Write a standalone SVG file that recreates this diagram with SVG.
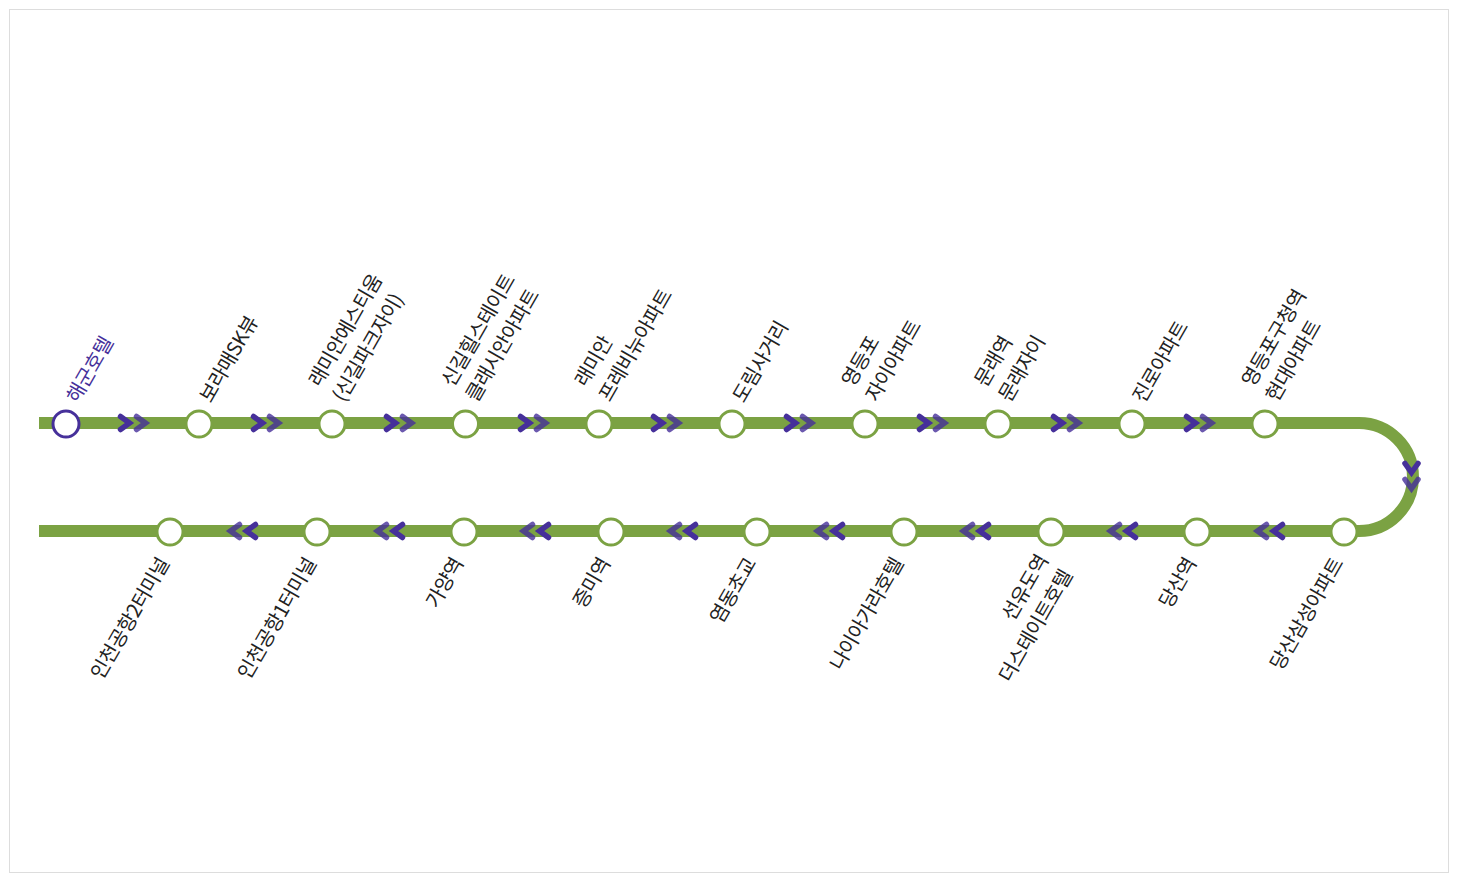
<svg xmlns="http://www.w3.org/2000/svg" width="1457" height="882" viewBox="0 0 1457 882">
<style>
text{font-family:"Noto Sans CJK KR","Noto Sans",sans-serif;font-size:20px;fill:#222;letter-spacing:-.5px}
.st{fill:#fff;stroke:#7ba243;stroke-width:3px}
.ch{fill:none;stroke:#46309a;stroke-width:5.500px;stroke-linecap:round;stroke-linejoin:miter}
.f{opacity:.8}
</style>
<defs>
<g id="rr"><path class="ch" d="M-11.500 -6.500L-2.500 0L-11.500 6.500"/><path class="ch f" d="M4.500 -6.500L13.500 0L4.500 6.500"/></g>
<g id="ll"><path class="ch" d="M12.500 -6.500L3.500 0L12.500 6.500"/><path class="ch f" d="M-3.500 -6.500L-12.500 0L-3.500 6.500"/></g>
</defs>
<rect x="9.500" y="9.500" width="1439" height="863" fill="#fff" stroke="#ddd"/>
<g id="connectors">
<path d="M39 423H1359A54 54 0 0 1 1359 531H39" fill="none" stroke="#7ba243" stroke-width="12"/>
<use href="#rr" x="132" y="423"/><use href="#rr" x="265" y="423"/><use href="#rr" x="398" y="423"/><use href="#rr" x="532" y="423"/><use href="#rr" x="665" y="423"/><use href="#rr" x="798" y="423"/><use href="#rr" x="931" y="423"/><use href="#rr" x="1065" y="423"/><use href="#rr" x="1198" y="423"/>
<use href="#rr" transform="translate(1411.500 475) rotate(90)"/>
<use href="#ll" x="1270" y="531"/><use href="#ll" x="1123" y="531"/><use href="#ll" x="976" y="531"/><use href="#ll" x="830" y="531"/><use href="#ll" x="683" y="531"/><use href="#ll" x="536" y="531"/><use href="#ll" x="390" y="531"/><use href="#ll" x="243" y="531"/>
</g>
<g id="n1"><circle cx="66" cy="424" r="13" fill="#fff" stroke="#46309a" stroke-width="3"/><text transform="translate(78 404) rotate(-60)" style="fill:#46309a">해군호텔</text></g>
<g id="n2"><circle class="st" cx="199" cy="424" r="13"/><text transform="translate(211 404) rotate(-60)">보라매SK뷰</text></g>
<g id="n3"><circle class="st" cx="332" cy="424" r="13"/><text transform="translate(320 388) rotate(-60)">래미안에스티움</text><text transform="translate(344 403) rotate(-60)">(신길파크자이)</text></g>
<g id="n4"><circle class="st" cx="465.500" cy="424" r="13"/><text transform="translate(453 388) rotate(-60)">신길힐스테이트</text><text transform="translate(477 403) rotate(-60)">클래시안아파트</text></g>
<g id="n5"><circle class="st" cx="599" cy="424" r="13"/><text transform="translate(586 388) rotate(-60)">래미안</text><text transform="translate(610 403) rotate(-60)">프레비뉴아파트</text></g>
<g id="n6"><circle class="st" cx="732" cy="424" r="13"/><text transform="translate(744 404) rotate(-60)">도림사거리</text></g>
<g id="n7"><circle class="st" cx="865" cy="424" r="13"/><text transform="translate(853 388) rotate(-60)">영등포</text><text transform="translate(877 403) rotate(-60)">자이아파트</text></g>
<g id="n8"><circle class="st" cx="998" cy="424" r="13"/><text transform="translate(986 388) rotate(-60)">문래역</text><text transform="translate(1010 403) rotate(-60)">문래자이</text></g>
<g id="n9"><circle class="st" cx="1132" cy="424" r="13"/><text transform="translate(1144 404) rotate(-60)">진로아파트</text></g>
<g id="n10"><circle class="st" cx="1265" cy="424" r="13"/><text transform="translate(1253 388) rotate(-60)">영등포구청역</text><text transform="translate(1277 403) rotate(-60)">현대아파트</text></g>
<g id="n11"><circle class="st" cx="1344" cy="532" r="13"/><text transform="translate(1344 563) rotate(-60)" text-anchor="end">당산삼성아파트</text></g>
<g id="n12"><circle class="st" cx="1197" cy="532" r="13"/><text transform="translate(1197 563) rotate(-60)" text-anchor="end">당산역</text></g>
<g id="n13"><circle class="st" cx="1051" cy="532" r="13"/><text transform="translate(1049 560) rotate(-60)" text-anchor="end">선유도역</text><text transform="translate(1073 575) rotate(-60)" text-anchor="end">더스테이트호텔</text></g>
<g id="n14"><circle class="st" cx="904" cy="532" r="13"/><text transform="translate(904 563) rotate(-60)" text-anchor="end">나이아가라호텔</text></g>
<g id="n15"><circle class="st" cx="757" cy="532" r="13"/><text transform="translate(757 563) rotate(-60)" text-anchor="end">염동초교</text></g>
<g id="n16"><circle class="st" cx="611" cy="532" r="13"/><text transform="translate(611 563) rotate(-60)" text-anchor="end">증미역</text></g>
<g id="n17"><circle class="st" cx="464" cy="532" r="13"/><text transform="translate(464 563) rotate(-60)" text-anchor="end">가양역</text></g>
<g id="n18"><circle class="st" cx="317" cy="532" r="13"/><text transform="translate(317 563) rotate(-60)" text-anchor="end">인천공항1터미널</text></g>
<g id="n19"><circle class="st" cx="170" cy="532" r="13"/><text transform="translate(170 563) rotate(-60)" text-anchor="end">인천공항2터미널</text></g>
</svg>
